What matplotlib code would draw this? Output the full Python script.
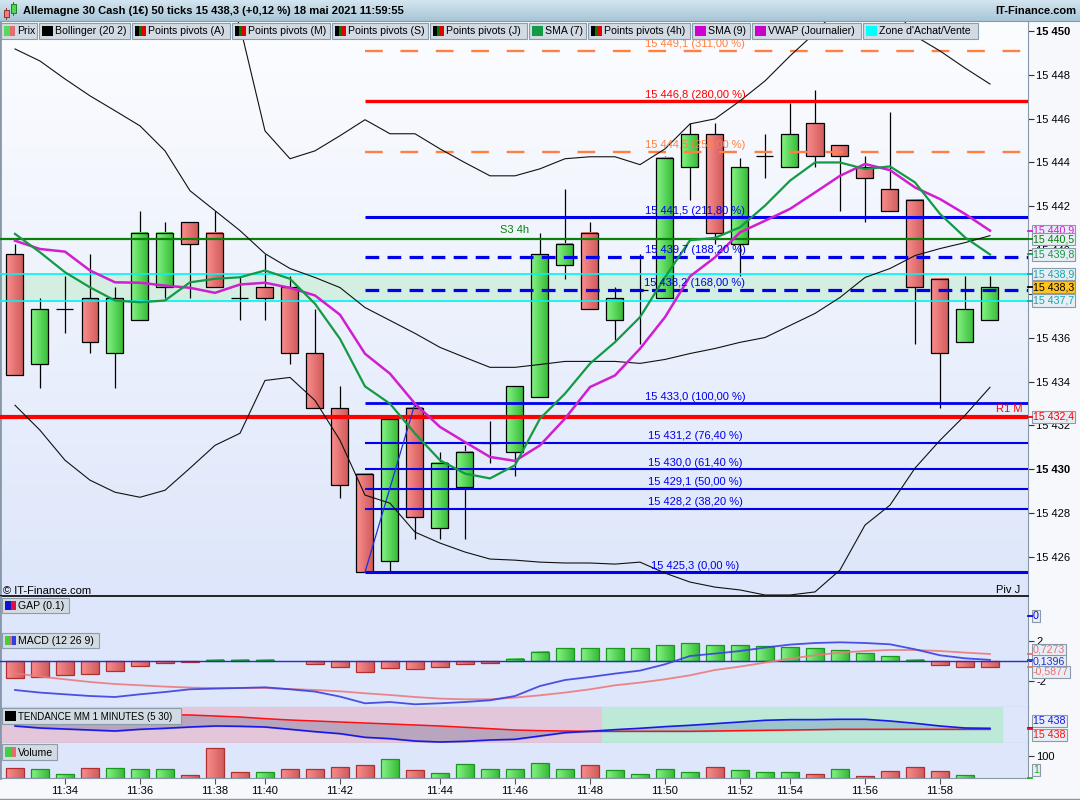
import numpy as np
import matplotlib
matplotlib.use('Agg')
import matplotlib.pyplot as plt
from matplotlib.patches import Rectangle
from matplotlib.colors import LinearSegmentedColormap

plt.rcParams['font.family'] = ['Liberation Sans', 'DejaVu Sans']
FS = 8.0
FS_LEG = 7.6
FS_BOX = 7.7

# ---------------- data ----------------
time_idx = [2, 5, 8, 10, 13, 17, 20, 23, 26, 29, 31, 34, 37]
time_labels = ['11:34', '11:36', '11:38', '11:40', '11:42', '11:44', '11:46',
               '11:48', '11:50', '11:52', '11:54', '11:56', '11:58']

opens = [15439.8, 15434.8, 15437.3, 15437.8, 15435.3, 15436.8, 15438.3, 15441.3, 15440.8, 15437.8,
         15438.3, 15438.3, 15435.3, 15432.8, 15429.8, 15425.8, 15432.8, 15427.3, 15429.2, 15431.2,
         15430.8, 15433.3, 15439.3, 15440.8, 15436.8, 15438.2, 15437.8, 15443.8, 15445.3, 15440.3,
         15444.3, 15443.8, 15445.8, 15444.8, 15443.8, 15442.8, 15442.3, 15438.7, 15435.8, 15436.8]
highs = [15440.3, 15437.8, 15438.8, 15439.8, 15438.3, 15441.8, 15441.3, 15441.3, 15441.8, 15438.8,
         15439.8, 15438.8, 15437.3, 15433.8, 15429.8, 15432.3, 15433.0, 15430.8, 15431.1, 15432.2,
         15433.8, 15440.8, 15442.8, 15441.3, 15438.3, 15439.8, 15444.3, 15445.8, 15445.8, 15444.2,
         15445.3, 15446.7, 15447.3, 15444.8, 15444.3, 15446.3, 15442.3, 15438.7, 15438.8, 15438.8]
lows = [15434.3, 15433.7, 15436.2, 15435.3, 15433.7, 15436.8, 15437.8, 15437.8, 15438.3, 15436.8,
        15436.8, 15434.8, 15432.8, 15428.7, 15425.3, 15425.3, 15426.8, 15426.8, 15426.8, 15430.3,
        15429.7, 15433.3, 15438.7, 15437.3, 15435.9, 15435.7, 15437.8, 15442.3, 15440.3, 15438.8,
        15443.3, 15443.8, 15443.8, 15441.8, 15441.3, 15441.8, 15435.7, 15432.8, 15435.8, 15436.8]
closes = [15434.3, 15437.3, 15437.3, 15435.8, 15437.8, 15440.8, 15440.8, 15440.3, 15438.3, 15437.8,
          15437.8, 15435.3, 15432.8, 15429.3, 15425.3, 15432.3, 15427.8, 15430.3, 15430.8, 15431.2,
          15433.8, 15439.8, 15440.3, 15437.3, 15437.8, 15438.2, 15444.2, 15445.3, 15440.8, 15443.8,
          15444.3, 15445.3, 15444.3, 15444.3, 15443.3, 15441.8, 15438.3, 15435.3, 15437.3, 15438.3]

sma7 = [15440.74, 15439.90, 15438.99, 15438.30, 15437.70, 15437.62, 15437.70, 15438.53, 15438.69, 15438.76,
        15439.07, 15438.69, 15437.55, 15435.95, 15433.78, 15432.99, 15431.63, 15430.41, 15429.80, 15429.58,
        15430.18, 15432.31, 15433.45, 15434.82, 15435.80, 15436.94, 15438.76, 15440.45, 15440.56, 15441.04,
        15442.03, 15443.17, 15444.00, 15444.00, 15443.70, 15443.82, 15443.09, 15441.65, 15440.58, 15439.80]
sma9 = [15440.43, 15440.05, 15439.93, 15439.07, 15438.53, 15438.51, 15438.38, 15438.28, 15438.05, 15438.43,
        15438.51, 15438.28, 15437.93, 15437.05, 15435.27, 15434.36, 15432.99, 15431.93, 15431.24, 15430.56,
        15430.38, 15431.09, 15432.31, 15433.75, 15434.28, 15435.50, 15436.94, 15438.80, 15439.67, 15440.81,
        15441.34, 15441.88, 15442.63, 15443.39, 15443.93, 15443.65, 15442.86, 15442.33, 15441.65, 15440.89]

boll_up = [15465.49, 15464.58, 15463.21, 15461.85, 15460.48, 15458.66, 15456.83, 15455.24, 15452.73, 15450.23,
           15445.44, 15444.17, 15444.53, 15445.22, 15445.95, 15445.31, 15445.31, 15444.62, 15443.99, 15443.39,
           15443.39, 15443.71, 15444.17, 15444.26, 15444.26, 15443.90, 15444.62, 15445.76, 15445.99, 15446.81,
           15447.72, 15448.86, 15449.91, 15451.14, 15451.82, 15451.37, 15449.77, 15449.09, 15448.31, 15447.58]
boll_mid = [15449.18, 15448.63, 15447.81, 15447.04, 15446.36, 15445.67, 15444.53, 15442.71, 15441.80, 15440.89,
            15439.84, 15439.16, 15438.75, 15438.29, 15437.38, 15436.79, 15436.20, 15435.56, 15435.10, 15434.65,
            15434.65, 15434.78, 15434.92, 15434.92, 15434.92, 15434.83, 15435.01, 15435.28, 15435.51, 15435.79,
            15436.01, 15436.56, 15437.11, 15437.84, 15438.75, 15439.16, 15439.75, 15440.07, 15440.34, 15440.66]
boll_low = [15432.92, 15431.78, 15430.41, 15429.50, 15428.95, 15428.72, 15429.04, 15430.05, 15431.09, 15431.64,
            15434.05, 15434.19, 15433.14, 15431.32, 15428.82, 15428.45, 15427.13, 15426.63, 15426.22, 15425.90,
            15425.85, 15425.76, 15425.72, 15425.72, 15425.67, 15425.76, 15425.26, 15424.85, 15424.62, 15424.49,
            15424.26, 15424.26, 15424.40, 15425.40, 15427.45, 15428.36, 15430.05, 15431.32, 15432.46, 15433.74]

fib_levels = [15449.1, 15446.8, 15444.5, 15441.5, 15439.7, 15438.2, 15433.0, 15431.2, 15430.0, 15429.1, 15428.2, 15425.3]
fib_pcts = ['311,00', '280,00', '250,00', '211,80', '188,20', '168,00', '100,00', '76,40', '61,40', '50,00', '38,20', '0,00']
fib_start, fib_end = 14, 16          # candle indices of the swing low / high
r1_month = 15432.4
s3_4h = 15440.5
zone_low, zone_high = 15437.7, 15438.9
last_price = 15438.3

macd_line = [-2.87, -3.13, -3.30, -3.47, -3.57, -3.30, -3.07, -2.80, -2.73, -2.67, -2.60, -2.80, -3.03, -3.53,
             -4.20, -4.07, -4.30, -4.20, -4.07, -3.90, -3.47, -2.47, -1.87, -1.57, -1.23, -0.93, -0.30, 0.53,
             0.77, 1.03, 1.37, 1.67, 1.83, 1.90, 1.83, 1.70, 1.20, 0.60, 0.30, 0.14]
macd_signal = [-1.20, -1.53, -1.80, -2.07, -2.27, -2.40, -2.53, -2.63, -2.67, -2.67, -2.67, -2.77, -2.87, -3.00,
               -3.20, -3.37, -3.57, -3.73, -3.80, -3.80, -3.63, -3.40, -3.13, -2.80, -2.40, -2.13, -1.80, -1.40,
               -0.87, -0.53, -0.13, 0.27, 0.60, 0.87, 1.03, 1.13, 1.13, 1.03, 0.87, 0.73]
macd_hist = [-1.70, -1.57, -1.40, -1.30, -1.00, -0.50, -0.20, -0.03, 0.13, 0.13, 0.13, 0.0, -0.30, -0.57,
             -1.03, -0.70, -0.80, -0.60, -0.30, -0.13, 0.23, 0.93, 1.30, 1.30, 1.30, 1.30, 1.60, 1.80,
             1.60, 1.60, 1.50, 1.40, 1.30, 1.10, 0.80, 0.50, 0.13, -0.40, -0.60, -0.59]

tend_fast = [15438.53, 15438.13, 15437.93, 15437.73, 15437.53, 15437.87, 15438.07, 15438.33, 15438.53, 15438.47,
             15438.33, 15437.87, 15437.40, 15437.00, 15436.27, 15436.00, 15435.53, 15435.33, 15435.47, 15435.73,
             15435.87, 15436.53, 15437.20, 15437.47, 15437.80, 15438.07, 15438.40, 15438.67, 15439.00, 15439.33,
             15439.67, 15439.80, 15439.80, 15439.87, 15439.87, 15439.53, 15439.07, 15438.53, 15438.13, 15438.07]
tend_slow = [15441.53, 15441.40, 15441.27, 15441.13, 15441.00, 15440.87, 15440.80, 15440.73, 15440.53, 15440.33,
             15440.00, 15439.73, 15439.53, 15439.33, 15439.13, 15438.93, 15438.73, 15438.53, 15438.27, 15438.00,
             15437.73, 15437.60, 15437.53, 15437.47, 15437.47, 15437.47, 15437.47, 15437.47, 15437.53, 15437.60,
             15437.67, 15437.73, 15437.80, 15437.87, 15437.87, 15437.87, 15437.87, 15437.87, 15437.87, 15437.87]
tend_switch = 23.5     # trend turns bullish between candles 23 and 24
tend_end = 39.5

volume = [45, 40, 18, 45, 45, 40, 40, 13, 135, 27, 27, 40, 40, 49, 58, 85, 36, 22, 63, 40,
          40, 67, 40, 58, 36, 18, 40, 27, 49, 36, 27, 27, 18, 40, 9, 31, 49, 31, 13, 1]
volume_up = [0, 1, 1, 0, 1, 1, 1, 0, 0, 0, 1, 0, 0, 0, 0, 1, 0, 1, 1, 1,
             1, 1, 1, 0, 1, 1, 1, 1, 0, 1, 1, 1, 0, 1, 0, 0, 0, 0, 1, 1]

# ---------------- figure ----------------
W, H = 1080, 800
fig = plt.figure(figsize=(10.8, 8), dpi=100)
fig.patch.set_facecolor('#f6f8fc')
XL = (-0.6, 40.52)
N = len(closes)
xs = np.arange(N)


def px_axes(x0, y0, x1, y1):
    return fig.add_axes([x0 / W, 1 - y1 / H, (x1 - x0) / W, (y1 - y0) / H])


def bg_gradient(a, top, bottom):
    cm = LinearSegmentedColormap.from_list('bg', [bottom, top])
    a.imshow(np.linspace(0, 1, 256).reshape(-1, 1), extent=[0, 1, 0, 1], transform=a.transAxes,
             cmap=cm, aspect='auto', origin='lower', zorder=0, interpolation='bilinear')


def grad_rect(a, x0, x1, y0, y1, cl, cr, ec, z, lw=0.9):
    lo, hi = min(y0, y1), max(y0, y1)
    cm = LinearSegmentedColormap.from_list('g', [cl, cr])
    a.imshow(np.linspace(0, 1, 32).reshape(1, -1), extent=[x0, x1, lo, hi], aspect='auto', cmap=cm,
             zorder=z, interpolation='bilinear', origin='lower')
    a.add_patch(Rectangle((x0, lo), x1 - x0, hi - lo, fill=False, ec=ec, lw=lw, zorder=z + 0.05))


def right_label(a, yval, text, color, fc='#e8eef6', tick_val=None, weight='normal'):
    tr = a.get_yaxis_transform()
    a.text(1 + 5 / 1028, yval, text, transform=tr, ha='left', va='center', fontsize=FS_BOX, color=color,
           weight=weight,
           bbox=dict(boxstyle='square,pad=0.1', fc=fc, ec='#8a9aab', lw=0.8), clip_on=False, zorder=30)
    tv = yval if tick_val is None else tick_val
    a.plot([1, 1 + 4 / 1028], [tv, tv], transform=tr, color=color, lw=1.3, clip_on=False, zorder=30)


GREEN_L, GREEN_R, GREEN_E = '#86f486', '#38bc38', '#18981c'
RED_L, RED_R, RED_E = '#fa8e8e', '#d25c5c', '#b03030'
AXC = '#8898a8'

# ---------------- main price panel ----------------
ax = px_axes(0, 21, 1028, 596)
bg_gradient(ax, '#fcfdff', '#dde6fa')
ax.axhspan(zone_low, zone_high, color='#d5eee2', zorder=1)
ax.axhline(zone_low, color='#00f4f4', lw=1.2, zorder=5)
ax.axhline(zone_high, color='#00f4f4', lw=1.2, zorder=5)

BW = 0.68
for i in range(N):
    o, h, l, c = opens[i], highs[i], lows[i], closes[i]
    ax.vlines(i, l, h, color='black', lw=0.9, zorder=3)
    if c > o:
        grad_rect(ax, i - BW / 2, i + BW / 2, o, c, GREEN_L, GREEN_R, 'black', 3.2)
    elif c < o:
        grad_rect(ax, i - BW / 2, i + BW / 2, o, c, RED_L, RED_R, 'black', 3.2)
    else:
        ax.hlines(c, i - BW / 2, i + BW / 2, color='black', lw=0.9, zorder=3.2)

# full-width pivots
ax.axhline(r1_month, color='#ff0000', lw=3.0, zorder=5)
ax.axhline(s3_4h, color='#0a800a', lw=1.6, zorder=5)

# fibonacci levels
fib_styles = [('#ff8040', '--', 1.7), ('#ff0000', '-', 2.4), ('#ff8040', '--', 1.7), ('#0000ee', '-', 2.2),
              ('#0000ee', ':', 2.3), ('#0000ee', ':', 2.3), ('#0000ee', '-', 2.0), ('#0000ee', '-', 1.5),
              ('#0000ee', '-', 1.5), ('#0000ee', '-', 1.5), ('#0000ee', '-', 1.5), ('#0000ee', '-', 2.2)]
for lev, pct, (col, ls, lw) in zip(fib_levels, fib_pcts, fib_styles):
    if ls == '--':
        dash = (0, (7.5, 7.5))
    elif ls == ':':
        dash = (0, (4.3, 2.6))
    else:
        dash = '-'
    ax.hlines(lev, fib_start, XL[1], color=col, lw=lw, linestyles=[dash], zorder=5)
    ax.annotate(f"{lev:,.1f}".replace(',', ' ').replace('.', ',') + f" ({pct} %)", (27.2, lev),
                xytext=(0, 2.5), textcoords='offset points', ha='center', va='baseline',
                fontsize=FS, color=col, zorder=8)
ax.plot([fib_start, fib_end], [lows[fib_start], highs[fib_end]], color='#2030e0', lw=0.9, zorder=6)

# bollinger + SMAs
for band in (boll_up, boll_mid, boll_low):
    ax.plot(xs, band, color='#111111', lw=0.8, zorder=6)
ax.plot(xs, sma9, color='#d01ed0', lw=1.8, zorder=7)
ax.plot(xs, sma7, color='#149a44', lw=1.6, zorder=7)

ax.annotate('S3 4h', (20, s3_4h), xytext=(0, 3), textcoords='offset points', ha='center',
            va='bottom', fontsize=FS, color='#0a800a', zorder=8)
ax.annotate('R1 M', (1, r1_month), xycoords=ax.get_yaxis_transform(), xytext=(-4, 2),
            textcoords='offset points', ha='right', va='bottom', fontsize=FS, color='#ff0000', zorder=8)
ax.text(1 - 8 / 1028, 6 / 575, 'Piv J', transform=ax.transAxes, ha='right', va='center', fontsize=FS,
        color='black', zorder=8)
ax.text(3 / 1028, 5 / 575, '© IT-Finance.com', transform=ax.transAxes, ha='left', va='center',
        fontsize=FS, color='black', zorder=8)

ax.set_xlim(XL)
ax.set_ylim(15424.214, 15450.456)
ax.set_xticks([])
ticks = np.arange(15426, 15451, 2)
ax.set_yticks(ticks)
ax.set_yticklabels([f"{t:,.0f}".replace(',', ' ') for t in ticks])
ax.yaxis.tick_right()
ax.tick_params(axis='y', direction='out', length=4, pad=2, labelsize=FS, color='#333333')
for t, tk in zip(ticks, ax.yaxis.get_major_ticks()):
    if t in (15450, 15430):
        tk.label1.set_fontweight('bold')
        tk.label2.set_fontweight('bold')
ax.spines['top'].set_visible(False)
ax.spines['left'].set_color(AXC)
ax.spines['left'].set_linewidth(2)
ax.spines['right'].set_color(AXC)
ax.spines['bottom'].set_color('black')
ax.spines['bottom'].set_linewidth(1.2)

right_label(ax, sma9[-1], '15 440,9', '#d01ed0')
right_label(ax, s3_4h, '15 440,5', '#0a800a')
right_label(ax, sma7[-1], '15 439,8', '#149a44')
right_label(ax, zone_high, '15 438,9', '#10a8a8')
right_label(ax, last_price, '15 438,3', 'black', fc='#ffc51e')
right_label(ax, zone_low, '15 437,7', '#10a8a8')
right_label(ax, r1_month, '15 432,4', '#ff0000')


def lower_axes(y0, y1):
    a = px_axes(0, y0, 1028, y1)
    a.set_facecolor('#dde6fb')
    a.set_xlim(XL)
    a.set_xticks([])
    a.yaxis.tick_right()
    a.tick_params(axis='y', direction='out', length=4, pad=2, labelsize=FS, color='#333333')
    a.spines['left'].set_color(AXC)
    a.spines['left'].set_linewidth(2)
    a.spines['right'].set_color(AXC)
    a.spines['top'].set_visible(False)
    a.spines['bottom'].set_visible(False)
    return a


# ---------------- GAP ----------------
ag = lower_axes(597, 628)
ag.set_ylim(-1.2, 1.9)
ag.set_yticks([])
right_label(ag, 0, '0', '#0000ee')

# ---------------- MACD ----------------
am = lower_axes(628, 707)
am.spines['bottom'].set_visible(True)
am.spines['bottom'].set_color(AXC)
HW = 0.72
for i in range(N):
    v = macd_hist[i]
    if abs(v) < 0.01:
        continue
    if v > 0:
        grad_rect(am, i - HW / 2, i + HW / 2, 0, v, GREEN_L, GREEN_R, GREEN_E, 2)
    else:
        grad_rect(am, i - HW / 2, i + HW / 2, 0, v, RED_L, RED_R, RED_E, 2)
am.axhline(0, color='#2030d0', lw=1.0, zorder=3)
am.plot(xs, macd_signal, color='#ec7a7a', lw=1.3, alpha=0.9, zorder=4)
am.plot(xs, macd_line, color='#3a40e0', lw=1.3, alpha=0.9, zorder=4)
am.set_xlim(XL)
am.set_ylim(-4.57, 3.33)
am.set_yticks([2, 0, -2])
am.set_yticklabels(['2', '', '-2'])
right_label(am, 1.13, '0,7273', '#e87070', tick_val=macd_signal[-1])
right_label(am, 0.0, '0,1396', '#2030d0', tick_val=macd_line[-1])
right_label(am, -1.07, '-0,5877', '#e87070', tick_val=macd_hist[-1])

# ---------------- TENDANCE ----------------
at = lower_axes(707, 743)
at.axvspan(XL[0], tend_switch, color='#e3c6da', zorder=0.5)
at.axvspan(tend_switch, tend_end, color='#bde9d9', zorder=0.5)
xd = np.linspace(0, N - 1, 800)
fd = np.interp(xd, xs, tend_fast)
sd = np.interp(xd, xs, tend_slow)
m1 = xd <= tend_switch
at.fill_between(xd[m1], fd[m1], sd[m1], color='#b9a5bd', zorder=1)
at.fill_between(xd[~m1], fd[~m1], sd[~m1], color='#9bc4cc', zorder=1)
at.plot(xs, tend_slow, color='#ff1010', lw=1.1, zorder=3)
at.plot(xs, tend_fast, color='#1818e8', lw=1.2, zorder=3)
at.set_xlim(XL)
at.set_ylim(15435.13, 15442.33)
at.set_yticks([])
at.spines['bottom'].set_visible(True)
at.spines['bottom'].set_color(AXC)
right_label(at, 15439.53, '15 438', '#1818e8', tick_val=tend_fast[-1])
right_label(at, 15436.73, '15 438', '#ff1010', tick_val=tend_slow[-1])

# ---------------- Volume ----------------
av = lower_axes(743, 778)
for i in range(N):
    if volume[i] < 2:
        continue
    if volume_up[i]:
        grad_rect(av, i - HW / 2, i + HW / 2, 0, volume[i], GREEN_L, GREEN_R, GREEN_E, 2)
    else:
        grad_rect(av, i - HW / 2, i + HW / 2, 0, volume[i], RED_L, RED_R, RED_E, 2)
av.set_xlim(XL)
av.set_ylim(0, 158)
av.set_yticks([100])
av.spines['bottom'].set_visible(True)
av.spines['bottom'].set_color(AXC)
av.set_xticks(time_idx)
av.set_xticklabels(time_labels)
av.tick_params(axis='x', direction='out', length=4, pad=2, labelsize=FS, color='#555555')
right_label(av, 37, '1', '#22b022', tick_val=volume[-1])

# ---------------- overlay: title bar, legends ----------------
ov = fig.add_axes([0, 0, 1, 1])
ov.axis('off')
ov.set_zorder(50)
ov.patch.set_alpha(0)
tb = LinearSegmentedColormap.from_list('tb', ['#d3e5f0', '#a8c6d7'])
ov.imshow(np.linspace(0, 1, 64).reshape(-1, 1), extent=[0, W, 21, 0], cmap=tb, aspect='auto',
          origin='upper', zorder=1)
ov.plot([0, W], [21, 21], color='#8898a8', lw=0.8, zorder=2)
# title icon
ov.add_patch(Rectangle((3.5, 10), 5, 7, fc='#f08080', ec='#903030', lw=0.7, zorder=3))
ov.plot([6, 6], [8, 19], color='#903030', lw=0.7, zorder=2.5)
ov.add_patch(Rectangle((10.5, 4), 5, 9, fc='#50d850', ec='#208020', lw=0.7, zorder=3))
ov.plot([13, 13], [2, 15], color='#208020', lw=0.7, zorder=2.5)
ov.text(23, 11.5, 'Allemagne 30 Cash (1€) 50 ticks 15 438,3 (+0,12 %) 18 mai 2021 11:59:55',
        fontsize=FS, weight='bold', va='center', ha='left', zorder=3)
ov.text(1076, 11.5, 'IT-Finance.com', fontsize=FS, weight='bold', va='center', ha='right', zorder=3)

legend_items = [
    ('Prix', 1, 37, ['#5ad85a', '#e07070']),
    ('Bollinger (20 2)', 39, 130, ['#000000']),
    ('Points pivots (A)', 132, 230, ['#000000', '#007a00', '#e00000']),
    ('Points pivots (M)', 232, 330, ['#000000', '#007a00', '#e00000']),
    ('Points pivots (S)', 332, 428, ['#000000', '#007a00', '#e00000']),
    ('Points pivots (J)', 430, 527, ['#000000', '#007a00', '#e00000']),
    ('SMA (7)', 529, 586, ['#139a44']),
    ('Points pivots (4h)', 588, 690, ['#000000', '#007a00', '#e00000']),
    ('SMA (9)', 692, 750, ['#d000d0']),
    ('VWAP (Journalier)', 752, 861, ['#c800c8']),
    ("Zone d'Achat/Vente", 863, 978, ['#00ffff']),
]


def legend_box(label, x0, x1, y0, y1, cols, fs=FS_LEG):
    ov.add_patch(Rectangle((x0, y0), x1 - x0, y1 - y0, fc='#d2dbe3', ec='#8b9cab', lw=0.8, zorder=3))
    n = len(cols)
    w = 11 / n
    for k, c in enumerate(cols):
        ov.add_patch(Rectangle((x0 + 3 + k * w, y0 + 3), w, (y1 - y0) - 6, fc=c, ec='none', zorder=4))
    ov.text(x0 + 16, (y0 + y1) / 2 + 0.5, label, fontsize=fs, va='center', ha='left', zorder=4)


for lab, x0, x1, cols in legend_items:
    legend_box(lab, x0, x1, 23, 39, cols)

legend_box('GAP (0.1)', 2, 69, 598, 613, ['#1010d0', '#e01040'])
legend_box('MACD (12 26 9)', 2, 99, 633, 648, ['#40d040', '#e07070', '#3040e0'])
legend_box('TENDANCE MM 1 MINUTES (5 30)', 2, 181, 708, 724, ['#000000'], fs=7.0)
legend_box('Volume', 2, 57, 744, 760, ['#40d040', '#e07070'])

ov.plot([0, W], [799, 799], color='#8898a8', lw=1.0, zorder=2)
ov.set_xlim(0, W)
ov.set_ylim(H, 0)

fig.savefig('out.png', dpi=100, facecolor=fig.get_facecolor())
